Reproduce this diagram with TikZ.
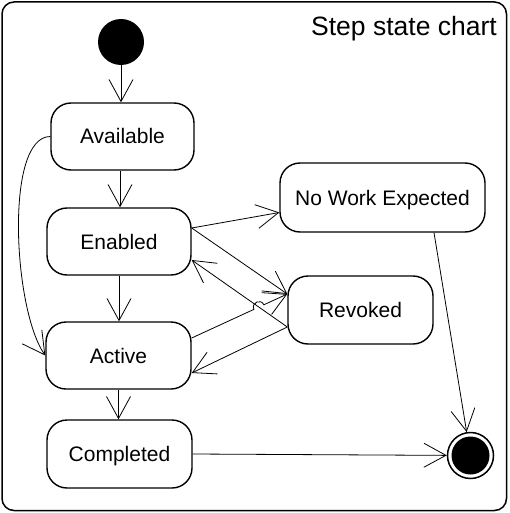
\documentclass[tikz,border=0pt]{standalone}
\usepackage{fontspec}
\setmainfont{Liberation Sans}
\usetikzlibrary{arrows.meta,calc,intersections}
\tikzset{
  statebox/.style={draw, line width=1.4pt, rounded corners=20pt, inner sep=0pt,
    minimum width=145pt, minimum height=67pt, text height=15pt, text depth=0pt,
    font=\fontsize{21}{25}\selectfont},
  conn/.style={line width=0.8pt, -{Straight Barb[length=22pt,width=24pt,line width=0.8pt]}},
}
\begin{document}
\begin{tikzpicture}[x=1pt,y=-1pt]
\useasboundingbox (0,0) rectangle (509,513);
\draw[line width=1.5pt, rounded corners=12pt] (2,2) rectangle (506.5,510.5);
\node[anchor=base east, inner sep=0pt, font=\fontsize{26.5}{30}\selectfont] (title) at (497,36) {Step state chart};

\node[circle, fill=black, minimum size=46pt, inner sep=0pt] (init) at (121,42) {};
\node[statebox, minimum width=143pt] (avail) at (122.5,136.5) {Available};
\node[statebox, minimum width=144pt] (enabled) at (119,241.5) {Enabled};
\node[statebox] (active) at (118.5,355.5) {Active};
\node[statebox, minimum height=68pt] (completed) at (119.5,454) {Completed};
\node[statebox, minimum width=205pt, minimum height=69pt] (nwe) at (382.5,197.5) {No Work Expected};
\node[statebox, minimum height=68pt] (revoked) at (360.5,310) {Revoked};
\node[circle, draw, line width=1.5pt, minimum size=46pt, inner sep=0pt] (final) at (470.5,455.5) {};
\fill (final.center) circle (19pt);

% vertical flow
\draw[conn] (init.south) -- (init.south |- avail.north);
\draw[conn] ([xshift=-2.5pt]avail.south) -- ([xshift=-2.5pt]avail.south |- enabled.north);
\draw[conn] (enabled.south) -- (enabled.south |- active.north);
\draw[conn] (active.south) -- (active.south |- completed.north);

% curved bypass
\draw[conn] (avail.west) .. controls +(-46,0) and +(-32,-45) .. (active.west);

% Enabled / Revoked / Active links
\coordinate (e1) at ([yshift=13.5pt]enabled.east);
\coordinate (e2) at ([yshift=-18.5pt]enabled.east);
\coordinate (r1) at ([yshift=16pt]revoked.west);
\coordinate (r2) at ([yshift=-17pt]revoked.west);
\coordinate (a1) at ([yshift=17.5pt]active.east);
\coordinate (a2) at ([yshift=-17.5pt]active.east);
\coordinate (n1) at ([yshift=-15pt]nwe.west);

\draw[conn] (e1) -- (n1);
\draw[conn] (e1) -- (r1);
\draw[conn, name path=rv] (r2) -- (e2);
\draw[conn] (r2) -- (a2);

% Active -> Revoked with a hop over Revoked -> Enabled
\path[name path=ar] (a1) -- (r1);
\path[name intersections={of=rv and ar, by=X}];
\coordinate (h1) at ($(X)!5.5pt!(a1)$);
\coordinate (h2) at ($(X)!5.5pt!(r1)$);
\draw[conn] (a1) -- (h1) .. controls ($(h1)!7.3pt!90:(X)$) and ($(h2)!7.3pt!-90:(X)$) .. (h2) -- (r1);

% to final
\draw[conn] ([xshift=51.5pt]nwe.south) -- (final);
\draw[conn] (completed.east) -- (final);
\end{tikzpicture}
\end{document}
